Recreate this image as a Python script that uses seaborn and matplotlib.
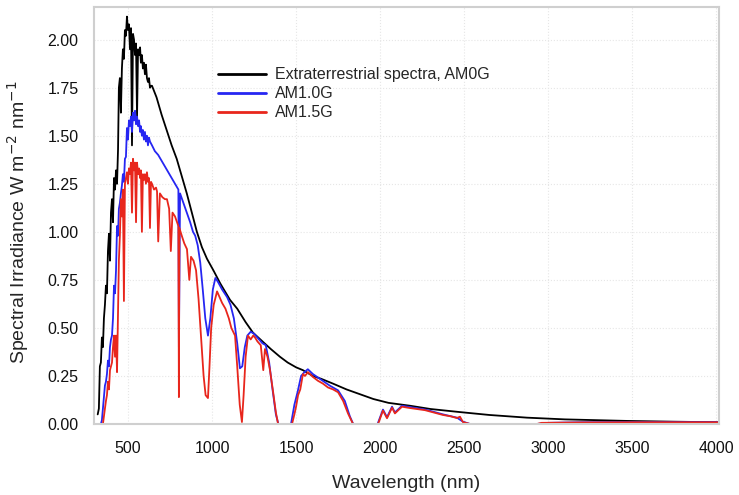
import numpy as np
import pandas as pd
import seaborn as sns
import matplotlib
matplotlib.use("Agg")
import matplotlib.pyplot as plt

# ---------------- data ----------------
am0_wl = [320, 327, 333, 339, 345, 351, 357, 363, 369, 375, 381, 387, 393, 399, 405,
          411, 417, 423, 429, 435, 441, 446, 452, 458, 464, 470, 476, 482, 488, 494,
          500, 506, 512, 518, 524, 530, 536, 542, 548, 554, 560, 566, 572, 577, 583,
          589, 595, 601, 607, 613, 619, 625, 631, 637, 643, 670, 700, 730, 760, 790,
          820, 850, 880, 910, 940, 970, 1008, 1050, 1107, 1150, 1200, 1244, 1300, 1350,
          1404, 1450, 1500, 1541, 1600, 1650, 1720, 1800, 1880, 1960, 2050, 2178, 2300,
          2475, 2650, 2874, 3100, 3469, 3750, 4016]
am0_val = [0.05, 0.08, 0.30, 0.32, 0.45, 0.40, 0.55, 0.62, 0.72, 0.68, 0.90, 0.99, 0.85, 1.10, 1.17,
           1.05, 1.28, 1.22, 1.32, 1.25, 1.43, 1.75, 1.80, 1.62, 1.85, 1.95, 1.90, 2.05, 2.02, 2.12,
           2.05, 2.08, 1.95, 2.06, 1.45, 2.03, 2.00, 1.92, 1.98, 1.60, 1.95, 1.92, 1.96, 1.88, 1.92,
           1.85, 1.88, 1.82, 1.87, 1.80, 1.78, 1.80, 1.75, 1.76, 1.76, 1.70, 1.61, 1.53, 1.45, 1.38,
           1.29, 1.20, 1.10, 1.00, 0.92, 0.86, 0.80, 0.73, 0.646, 0.60, 0.53, 0.475, 0.43, 0.39,
           0.35, 0.32, 0.295, 0.28, 0.25, 0.235, 0.21, 0.18, 0.155, 0.13, 0.11, 0.095, 0.078,
           0.062, 0.047, 0.033, 0.024, 0.016, 0.012, 0.009]

am10_wl = [333, 339, 345, 351, 357, 363, 369, 375, 381, 387, 393, 399, 405, 411, 417,
           423, 429, 435, 441, 446, 452, 458, 464, 470, 476, 482, 488, 494, 500, 506,
           512, 518, 524, 530, 536, 542, 548, 554, 560, 566, 572, 577, 583, 589, 595,
           601, 607, 613, 619, 625, 631, 643, 660, 680, 700, 720, 740, 760, 780, 800,
           803, 810, 830, 850, 870, 887, 900, 915, 930, 945, 960, 976, 990, 1005, 1020,
           1035, 1060, 1090, 1110, 1130, 1150, 1166, 1180, 1195, 1210, 1230, 1250, 1280, 1300,
           1320, 1340, 1360, 1380, 1395, 1470, 1490, 1510, 1530, 1550, 1570, 1600, 1650, 1700,
           1750, 1790, 1820, 1840, 1985, 2017, 2041, 2071, 2088, 2130, 2200, 2270, 2374, 2457,
           2493, 2535, 2930, 3000, 3200, 3500, 4016]
am10_val = [0.00, 0.00, 0.02, 0.08, 0.14, 0.20, 0.22, 0.26, 0.33, 0.30, 0.40, 0.44, 0.46, 0.55, 0.72,
            0.68, 0.80, 1.03, 0.98, 1.12, 1.15, 1.20, 1.24, 1.30, 1.26, 1.38, 1.39, 1.54, 1.48, 1.58,
            1.55, 1.60, 1.52, 1.62, 1.58, 1.63, 1.56, 1.60, 1.55, 1.58, 1.52, 1.55, 1.50, 1.53, 1.48,
            1.52, 1.47, 1.50, 1.45, 1.49, 1.47, 1.45, 1.42, 1.40, 1.37, 1.34, 1.31, 1.28, 1.25, 1.22,
            0.40, 1.20, 1.15, 1.10, 1.05, 1.00, 0.98, 0.93, 0.84, 0.70, 0.55, 0.46, 0.55, 0.70, 0.76,
            0.74, 0.70, 0.66, 0.62, 0.55, 0.42, 0.29, 0.30, 0.40, 0.46, 0.48, 0.47, 0.44, 0.42,
            0.41, 0.32, 0.18, 0.05, 0.00, 0.00, 0.10, 0.17, 0.25, 0.27, 0.285, 0.26, 0.23, 0.20,
            0.175, 0.12, 0.04, 0.00, 0.00, 0.075, 0.035, 0.09, 0.06, 0.095, 0.085, 0.075, 0.05, 0.033,
            0.012, 0.00, 0.00, 0.006, 0.009, 0.010, 0.010]

am15_wl = [339, 351, 357, 363, 369, 375, 381, 387, 393, 399, 405, 411, 417, 423, 429,
           435, 441, 446, 452, 458, 464, 470, 476, 482, 488, 494, 500, 506, 512, 518,
           524, 530, 536, 542, 548, 554, 560, 566, 572, 577, 583, 589, 595, 601, 607,
           613, 619, 625, 631, 637, 643, 655, 667, 673, 680, 690, 705, 720, 732, 745,
           755, 765, 780, 792, 800, 803, 806, 820, 835, 851, 865, 875, 890, 905, 920,
           935, 950, 962, 976, 985, 995, 1010, 1030, 1045, 1060, 1080, 1100, 1115, 1137,
           1150, 1165, 1178, 1188, 1200, 1214, 1230, 1245, 1256, 1270, 1290, 1305, 1315, 1330,
           1345, 1363, 1380, 1393, 1476, 1490, 1500, 1512, 1525, 1541, 1553, 1571, 1600, 1630,
           1660, 1690, 1720, 1750, 1780, 1809, 1839, 1988, 2017, 2041, 2071, 2088, 2130, 2178,
           2267, 2374, 2420, 2457, 2475, 2493, 2535, 2933, 2960, 3200, 3500, 4016]
am15_val = [0.00, 0.00, 0.04, 0.08, 0.12, 0.15, 0.22, 0.18, 0.28, 0.30, 0.32, 0.40, 0.46, 0.35, 0.46,
            0.27, 0.60, 0.85, 0.98, 1.17, 1.08, 1.22, 0.64, 1.25, 1.28, 1.31, 1.25, 1.33, 1.30, 1.36,
            1.10, 1.38, 1.32, 1.36, 1.05, 1.36, 1.30, 1.33, 1.28, 1.32, 1.00, 1.30, 1.27, 1.30, 1.25,
            1.31, 1.26, 1.28, 1.02, 1.26, 1.25, 1.22, 1.23, 1.21, 0.95, 1.20, 1.18, 1.17, 1.17, 1.12,
            0.90, 1.10, 1.08, 1.05, 1.03, 0.14, 1.02, 0.98, 0.94, 0.91, 0.75, 0.87, 0.85, 0.80, 0.65,
            0.45, 0.25, 0.15, 0.135, 0.30, 0.50, 0.62, 0.69, 0.66, 0.63, 0.60, 0.55, 0.50, 0.46,
            0.30, 0.10, 0.01, 0.15, 0.35, 0.46, 0.44, 0.46, 0.45, 0.43, 0.41, 0.28, 0.39, 0.35,
            0.28, 0.17, 0.06, 0.00, 0.00, 0.05, 0.09, 0.15, 0.18, 0.26, 0.25, 0.27, 0.245, 0.225,
            0.21, 0.19, 0.18, 0.165, 0.12, 0.055, 0.00, 0.00, 0.07, 0.03, 0.085, 0.055, 0.09, 0.083,
            0.072, 0.047, 0.040, 0.031, 0.038, 0.01, 0.00, 0.00, 0.006, 0.008, 0.009, 0.009]

series_names = ["Extraterrestrial spectra, AM0G", "AM1.0G", "AM1.5G"]
series_colors = ["#000000", "#2626f2", "#e8261c"]
x_ticks = [500, 1000, 1500, 2000, 2500, 3000, 3500, 4000]
y_ticks = [0.00, 0.25, 0.50, 0.75, 1.00, 1.25, 1.50, 1.75, 2.00]

df = pd.concat([
    pd.DataFrame({"wl": am0_wl, "irr": am0_val, "series": series_names[0]}),
    pd.DataFrame({"wl": am10_wl, "irr": am10_val, "series": series_names[1]}),
    pd.DataFrame({"wl": am15_wl, "irr": am15_val, "series": series_names[2]}),
], ignore_index=True)

# ---------------- figure ----------------
sns.set_style("white")
plt.rcParams["font.family"] = ["Liberation Sans", "DejaVu Sans"]

fig = plt.figure(figsize=(7.39, 4.95), dpi=100)
ax = fig.add_axes([94 / 739, 1 - 424 / 495, 625 / 739, 417 / 495])

sns.lineplot(data=df, x="wl", y="irr", hue="series", hue_order=series_names,
             palette=series_colors, estimator=None, sort=False, linewidth=1.3, ax=ax)

ax.set_xlim(298, 4016)
ax.set_ylim(0, 2.17)
ax.set_xticks(x_ticks)
ax.set_yticks(y_ticks)
ax.set_yticklabels([f"{v:.2f}" for v in y_ticks])
ax.tick_params(axis="both", length=0, labelsize=11.5, colors="#111111")
ax.tick_params(axis="y", pad=11)
ax.tick_params(axis="x", pad=12)

ax.grid(True, color="#e6e6e6", linestyle=":", linewidth=0.8)
for s in ax.spines.values():
    s.set_color("#cfcfcf")
    s.set_linewidth(1.5)

ax.set_xlabel("Wavelength (nm)", fontsize=14)
ax.set_ylabel("Spectral Irradiance W m$^{-2}$ nm$^{-1}$", fontsize=14)
ax.xaxis.set_label_coords(0.5, -0.122)
ax.yaxis.set_label_coords(-0.1, 0.484)

leg = ax.legend(loc="upper left", bbox_to_anchor=(0.198, 0.855), frameon=False,
                fontsize=11.5, handlelength=3.0, handletextpad=0.6, labelspacing=0.25,
                borderpad=0, borderaxespad=0)
for line in leg.get_lines():
    line.set_linewidth(2.0)

fig.savefig("out.png", dpi=100)
